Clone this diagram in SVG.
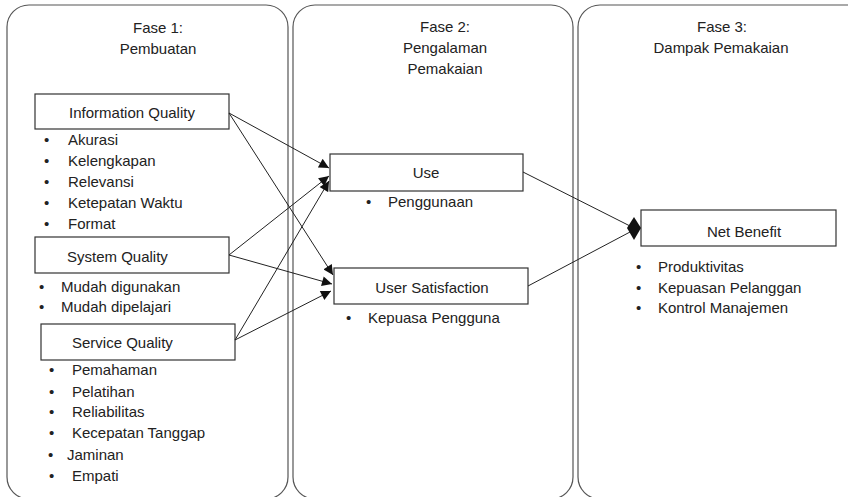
<svg xmlns="http://www.w3.org/2000/svg" width="848" height="497" viewBox="0 0 848 497">
<style>
text{font-family:"Liberation Sans",Arial,sans-serif;font-size:15px;fill:#222}
.c{text-anchor:middle}
.panel{fill:#fff;stroke:#555;stroke-width:1.2}
.box{fill:#fff;stroke:#333;stroke-width:1.2}
.ln{stroke:#222;stroke-width:1;fill:none}
</style>
<defs>
<marker id="arr" viewBox="0 0 10 10" refX="10" refY="5" markerWidth="11" markerHeight="10" markerUnits="userSpaceOnUse" orient="auto">
<path d="M0,0 L10,5 L0,10 z" fill="#111"/>
</marker>
</defs>
<rect width="848" height="497" fill="#fff"/>
<g id="phase1">
<rect class="panel" x="7" y="5" width="281" height="494" rx="22"/>
<text class="c" x="158" y="33">Fase 1:</text>
<text class="c" x="158" y="54">Pembuatan</text>
</g>
<g id="phase2">
<rect class="panel" x="293" y="5" width="280" height="494" rx="22"/>
<text class="c" x="445" y="32">Fase 2:</text>
<text class="c" x="445" y="53">Pengalaman</text>
<text class="c" x="445" y="74">Pemakaian</text>
</g>
<g id="phase3">
<rect class="panel" x="578" y="5" width="300" height="494" rx="22"/>
<text class="c" x="722" y="32">Fase 3:</text>
<text class="c" x="721" y="53">Dampak Pemakaian</text>
</g>
<g id="information-quality">
<rect class="box" x="35" y="94" width="194" height="35"/>
<text class="c" x="132" y="118">Information Quality</text>
<text x="44" y="145">•</text><text x="68" y="145">Akurasi</text>
<text x="44" y="166">•</text><text x="68" y="166">Kelengkapan</text>
<text x="44" y="187">•</text><text x="68" y="187">Relevansi</text>
<text x="44" y="208">•</text><text x="68" y="208">Ketepatan Waktu</text>
<text x="44" y="229">•</text><text x="68" y="229">Format</text>
</g>
<g id="system-quality">
<rect class="box" x="35" y="237" width="194" height="36"/>
<text x="67" y="262">System Quality</text>
<text x="39" y="292">•</text><text x="61" y="292">Mudah digunakan</text>
<text x="39" y="312">•</text><text x="61" y="312">Mudah dipelajari</text>
</g>
<g id="service-quality">
<rect class="box" x="41" y="324" width="194" height="36"/>
<text x="72" y="348">Service Quality</text>
<text x="49" y="375">•</text><text x="72" y="375">Pemahaman</text>
<text x="49" y="397">•</text><text x="72" y="397">Pelatihan</text>
<text x="49" y="417">•</text><text x="72" y="417">Reliabilitas</text>
<text x="49" y="438">•</text><text x="72" y="438">Kecepatan Tanggap</text>
<text x="48" y="460">•</text><text x="67" y="460">Jaminan</text>
<text x="49" y="481">•</text><text x="72" y="481">Empati</text>
</g>
<g id="use">
<rect class="box" x="330" y="154" width="193" height="37"/>
<text class="c" x="426" y="178">Use</text>
<text x="366" y="207">•</text><text x="388" y="207">Penggunaan</text>
</g>
<g id="user-satisfaction">
<rect class="box" x="334" y="268" width="194" height="36"/>
<text class="c" x="432" y="293">User Satisfaction</text>
<text x="346" y="323">•</text><text x="368" y="323">Kepuasa Pengguna</text>
</g>
<g id="net-benefit">
<rect class="box" x="641" y="210" width="195" height="36"/>
<text class="c" x="744" y="237">Net Benefit</text>
<text x="636" y="272">•</text><text x="658" y="272">Produktivitas</text>
<text x="636" y="293">•</text><text x="658" y="293">Kepuasan Pelanggan</text>
<text x="636" y="313">•</text><text x="658" y="313">Kontrol Manajemen</text>
</g>
<g id="connectors">
<line class="ln" x1="229" y1="113" x2="329" y2="168" marker-end="url(#arr)"/>
<line class="ln" x1="229" y1="113" x2="333" y2="275" marker-end="url(#arr)"/>
<line class="ln" x1="229" y1="255" x2="329" y2="176" marker-end="url(#arr)"/>
<line class="ln" x1="229" y1="255" x2="332" y2="284" marker-end="url(#arr)"/>
<line class="ln" x1="235" y1="340" x2="329" y2="181" marker-end="url(#arr)"/>
<line class="ln" x1="235" y1="340" x2="331" y2="291" marker-end="url(#arr)"/>
<line class="ln" x1="523" y1="172" x2="630" y2="226"/>
<line class="ln" x1="528" y1="286" x2="630" y2="232"/>
<polygon points="627,228 634,217 641,228 634,240" fill="#111"/>
</g>
</svg>
